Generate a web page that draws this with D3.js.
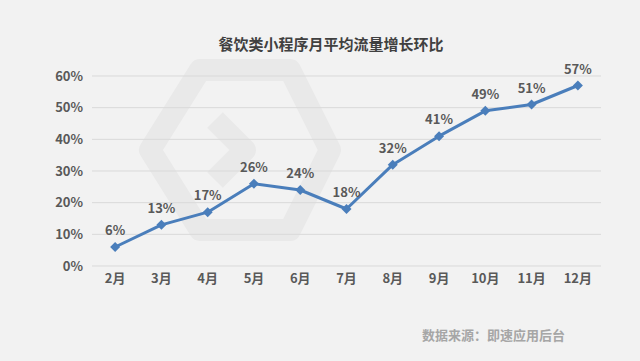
<!DOCTYPE html>
<html>
<head>
<meta charset="utf-8">
<script src="https://cdn.jsdelivr.net/npm/d3@7"></script>
<style>
body{margin:0;background:#f2f2f2;}
text{font-family:"Noto Sans CJK SC","Open Sans",sans-serif;font-weight:bold;}
</style>
</head>
<body>
<svg id="chart" width="640" height="361"></svg>
<script>
var months = ["2月","3月","4月","5月","6月","7月","8月","9月","10月","11月","12月"];
var growth = [6,13,17,26,24,18,32,41,49,51,57];
var yTicks = [0,10,20,30,40,50,60];

var width = 640, height = 361;
var svg = d3.select('#chart');

svg.append('rect').attr('width', width).attr('height', height).attr('fill', '#f2f2f2');

// faint watermark
var wm = svg.append('g').attr('fill', 'none').attr('stroke', '#e9e9e9').attr('stroke-width', 22).attr('stroke-linejoin', 'round');
wm.append('path').attr('d', 'M150,150 L200,70 L290,70 L330,150 L290,230 L200,230 Z');
wm.append('path').attr('d', 'M215,120 L245,150 L215,180');

var x = d3.scaleBand().domain(months).range([92, 601]);
var y = d3.scaleLinear().domain([0, 60]).range([266, 76]);

var grid = svg.append('g');
grid.selectAll('line').data(yTicks).enter().append('line')
	.attr('x1', 92).attr('x2', 601)
	.attr('y1', function(d){ return y(d); })
	.attr('y2', function(d){ return y(d); })
	.attr('stroke', '#d9d9d9').attr('stroke-width', 1);

var yAxis = d3.axisLeft(y).tickValues(yTicks).tickSize(0).tickPadding(0)
	.tickFormat(function(d){ return d + '%'; });
var yg = svg.append('g').attr('transform', 'translate(83,0)').call(yAxis);
yg.select('.domain').remove();
yg.selectAll('text').attr('fill', '#595959').style('font-size', '13px');

var xAxis = d3.axisBottom(x).tickSize(0).tickPadding(0);
var xg = svg.append('g').attr('transform', 'translate(0,274)').call(xAxis);
xg.select('.domain').remove();
xg.selectAll('text').attr('fill', '#595959').style('font-size', '13px').attr('dy', '0.71em');

function cx(i){ return x(months[i]) + x.bandwidth() / 2; }

var line = d3.line()
	.x(function(d, i){ return cx(i); })
	.y(function(d){ return y(d); });

svg.append('path').datum(growth)
	.attr('d', line)
	.attr('fill', 'none')
	.attr('stroke', '#4a7ebb')
	.attr('stroke-width', 3)
	.attr('stroke-linejoin', 'round');

svg.append('g').selectAll('path').data(growth).enter().append('path')
	.attr('d', d3.symbol().type(d3.symbolSquare).size(50))
	.attr('transform', function(d, i){ return 'translate(' + cx(i) + ',' + y(d) + ') rotate(45)'; })
	.attr('fill', '#4a7ebb');

svg.append('g').selectAll('text').data(growth).enter().append('text')
	.attr('x', function(d, i){ return cx(i); })
	.attr('y', function(d){ return y(d) - 12; })
	.attr('text-anchor', 'middle')
	.attr('fill', '#595959')
	.style('font-size', '13px')
	.text(function(d){ return d + '%'; });

svg.append('text')
	.attr('x', 331).attr('y', 50)
	.attr('text-anchor', 'middle')
	.attr('fill', '#404040')
	.style('font-size', '15px')
	.text('餐饮类小程序月平均流量增长环比');

svg.append('text')
	.attr('x', 565).attr('y', 340)
	.attr('text-anchor', 'end')
	.attr('fill', '#a6a6a6')
	.style('font-size', '13px')
	.text('数据来源：即速应用后台');
</script>
</body>
</html>
